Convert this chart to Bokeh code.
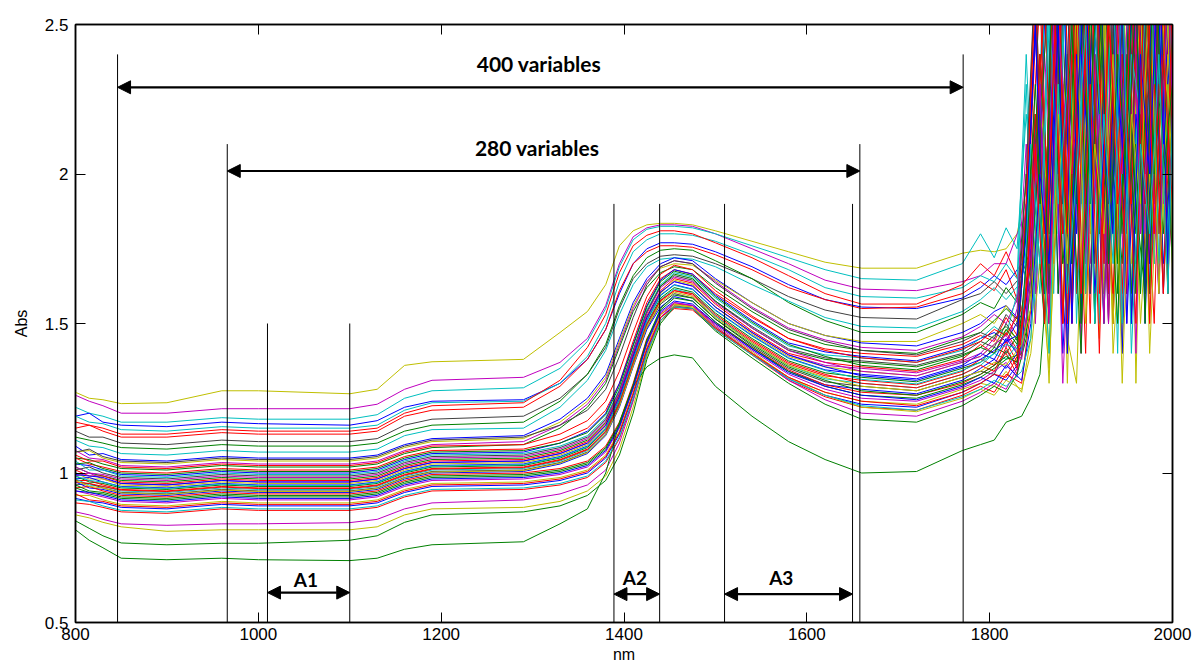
from bokeh.plotting import figure
from bokeh.models import Range1d, LinearAxis, FixedTicker, Arrow, NormalHead, ColumnDataSource
from bokeh.embed import file_html
from bokeh.resources import INLINE
from bokeh.core.properties import value

# wavelength grids (nm); the noisy tail is sampled at two interleaved sets of points
wavelength = [800, 815, 830, 850, 900, 960, 1000, 1100, 1130, 1160, 1190, 1290, 1330, 1360, 1380,
              1395, 1410, 1425, 1440, 1455, 1475, 1500, 1540, 1580, 1620, 1660, 1720, 1770, 1790,
              1805, 1818,
              1830, 1840, 1850, 1860, 1870, 1880, 1890, 1900, 1910, 1920, 1930, 1940, 1950, 1960,
              1970, 1980, 1990, 2000]
wavelength_b = [800, 815, 830, 850, 900, 960, 1000, 1100, 1130, 1160, 1190, 1290, 1330, 1360, 1380,
                1395, 1410, 1425, 1440, 1455, 1475, 1500, 1540, 1580, 1620, 1660, 1720, 1770, 1790,
                1805, 1818,
                1835, 1845, 1855, 1865, 1875, 1885, 1895, 1905, 1915, 1925, 1935, 1945, 1955, 1965,
                1975, 1985, 1995, 2000]

# absorbance spectra
c01 = [1.27, 1.25, 1.245, 1.232, 1.235, 1.275, 1.275, 1.265, 1.28, 1.36, 1.372, 1.38, 1.47, 1.54, 1.63, 1.76, 1.81, 1.83, 1.835, 1.835, 1.83, 1.81, 1.775, 1.74, 1.705, 1.685, 1.685, 1.735, 1.745, 1.74, 1.75,
       1.80, 1.95, 2.6, 1.7, 2.9, 2.1, 3.1, 1.6, 2.7, 1.45, 2.8, 2.2, 3.0, 1.3, 2.6, 1.9, 2.9, 2.0]
c02 = [1.26, 1.24, 1.225, 1.20, 1.20, 1.215, 1.215, 1.215, 1.23, 1.28, 1.31, 1.32, 1.37, 1.45, 1.56, 1.70, 1.79, 1.82, 1.83, 1.83, 1.825, 1.80, 1.75, 1.70, 1.645, 1.615, 1.61, 1.64, 1.66, 1.70, 1.70,
       1.84, 1.72, 2.4, 1.9, 3.0, 1.6, 2.5, 2.0, 3.2, 1.7, 2.3, 1.5, 2.9, 2.1, 2.7, 1.6, 3.0, 2.2]
c03 = [1.22, 1.20, 1.19, 1.17, 1.17, 1.185, 1.18, 1.18, 1.195, 1.25, 1.275, 1.285, 1.35, 1.44, 1.55, 1.69, 1.78, 1.815, 1.825, 1.825, 1.82, 1.80, 1.76, 1.72, 1.68, 1.65, 1.645, 1.70, 1.80, 1.72, 1.82,
       1.75, 2.2, 1.8, 2.8, 1.6, 2.5, 3.1, 1.9, 2.6, 1.5, 3.0, 2.0, 2.4, 1.7, 3.2, 2.1, 2.7, 1.8]
c04 = [1.19, 1.20, 1.17, 1.16, 1.155, 1.17, 1.165, 1.16, 1.175, 1.22, 1.24, 1.245, 1.30, 1.38, 1.48, 1.60, 1.70, 1.75, 1.77, 1.77, 1.765, 1.74, 1.69, 1.63, 1.58, 1.555, 1.55, 1.585, 1.62, 1.66, 1.63,
       1.70, 1.6, 2.3, 1.8, 2.9, 1.4, 2.6, 2.2, 3.0, 1.6, 2.1, 2.8, 1.5, 2.5, 1.9, 3.1, 1.7, 2.4]
c05 = [1.19, 1.17, 1.165, 1.145, 1.14, 1.155, 1.15, 1.15, 1.16, 1.21, 1.235, 1.24, 1.30, 1.39, 1.50, 1.64, 1.74, 1.78, 1.80, 1.80, 1.795, 1.775, 1.73, 1.68, 1.62, 1.59, 1.585, 1.62, 1.66, 1.64, 1.70,
       1.65, 2.4, 1.7, 2.2, 3.0, 1.8, 2.7, 1.5, 2.4, 3.1, 1.9, 2.6, 1.6, 2.9, 2.2, 1.7, 2.8, 2.3]
c06 = [1.17, 1.16, 1.15, 1.13, 1.13, 1.145, 1.14, 1.14, 1.15, 1.20, 1.225, 1.235, 1.31, 1.42, 1.53, 1.67, 1.76, 1.795, 1.81, 1.81, 1.80, 1.77, 1.72, 1.66, 1.60, 1.565, 1.565, 1.63, 1.70, 1.66, 1.74,
       1.62, 2.1, 2.8, 1.6, 2.3, 1.9, 3.0, 1.7, 2.5, 2.0, 3.2, 1.5, 2.6, 1.8, 2.4, 2.9, 1.6, 2.2]
c07 = [1.15, 1.16, 1.14, 1.12, 1.12, 1.135, 1.13, 1.13, 1.14, 1.19, 1.21, 1.22, 1.29, 1.38, 1.48, 1.61, 1.70, 1.74, 1.76, 1.76, 1.755, 1.73, 1.68, 1.62, 1.58, 1.55, 1.555, 1.60, 1.64, 1.61, 1.68,
       1.58, 1.9, 2.5, 1.7, 3.0, 2.2, 1.6, 2.7, 1.9, 3.1, 1.5, 2.4, 2.0, 2.8, 1.7, 2.5, 3.0, 1.9]
c08 = [1.14, 1.12, 1.12, 1.10, 1.095, 1.11, 1.105, 1.105, 1.115, 1.16, 1.18, 1.19, 1.25, 1.33, 1.42, 1.55, 1.65, 1.70, 1.725, 1.73, 1.725, 1.70, 1.65, 1.59, 1.545, 1.52, 1.515, 1.58, 1.60, 1.64, 1.60,
       1.66, 1.75, 2.2, 1.6, 2.7, 1.9, 2.4, 3.0, 1.7, 2.3, 1.5, 2.9, 2.1, 2.6, 1.8, 3.2, 2.0, 2.5]
c09 = [1.12, 1.11, 1.10, 1.085, 1.08, 1.095, 1.09, 1.09, 1.10, 1.14, 1.16, 1.17, 1.24, 1.33, 1.43, 1.56, 1.66, 1.72, 1.745, 1.75, 1.745, 1.71, 1.65, 1.57, 1.51, 1.47, 1.47, 1.53, 1.57, 1.55, 1.62,
       1.57, 2.0, 1.6, 2.6, 1.8, 2.2, 2.9, 1.5, 2.5, 2.0, 2.8, 1.7, 2.3, 3.0, 1.6, 2.4, 1.9, 2.7]
c10 = [1.11, 1.09, 1.085, 1.065, 1.06, 1.075, 1.07, 1.07, 1.08, 1.125, 1.145, 1.15, 1.22, 1.31, 1.41, 1.53, 1.63, 1.69, 1.715, 1.72, 1.715, 1.69, 1.63, 1.575, 1.52, 1.49, 1.485, 1.54, 1.58, 1.62, 1.58,
       1.64, 1.85, 2.4, 1.7, 2.1, 2.8, 1.6, 2.3, 1.9, 3.0, 1.8, 2.5, 1.55, 2.7, 2.0, 2.9, 1.7, 2.2]
c11 = [1.09, 1.06, 1.065, 1.045, 1.04, 1.055, 1.05, 1.05, 1.06, 1.095, 1.115, 1.125, 1.18, 1.25, 1.33, 1.45, 1.57, 1.65, 1.70, 1.72, 1.71, 1.65, 1.57, 1.50, 1.46, 1.435, 1.425, 1.47, 1.50, 1.54, 1.56,
       1.52, 1.8, 2.5, 1.6, 3.0, 2.0, 2.6, 1.5, 2.8, 2.2, 1.7, 3.1, 1.9, 2.4, 1.6, 2.7, 2.1, 2.9]
c12 = [1.07, 1.075, 1.05, 1.035, 1.03, 1.045, 1.04, 1.04, 1.05, 1.085, 1.105, 1.115, 1.17, 1.24, 1.32, 1.44, 1.56, 1.64, 1.685, 1.70, 1.695, 1.645, 1.57, 1.50, 1.46, 1.44, 1.44, 1.50, 1.53, 1.50, 1.56,
       1.48, 1.7, 2.2, 1.5, 2.7, 1.9, 3.0, 1.6, 2.4, 2.0, 2.9, 1.4, 2.5, 1.8, 3.1, 2.2, 1.6, 2.6]
c13 = [1.075, 1.05, 1.045, 1.025, 1.02, 1.035, 1.03, 1.03, 1.04, 1.075, 1.095, 1.105, 1.16, 1.23, 1.31, 1.43, 1.55, 1.64, 1.69, 1.71, 1.70, 1.64, 1.555, 1.485, 1.445, 1.42, 1.41, 1.455, 1.49, 1.53, 1.50,
       1.58, 2.1, 1.6, 2.4, 1.9, 2.9, 1.5, 2.6, 2.2, 3.0, 1.7, 2.3, 2.8, 1.6, 2.5, 1.9, 2.8, 2.1]
c14 = [1.05, 1.045, 1.03, 1.015, 1.01, 1.025, 1.02, 1.02, 1.03, 1.065, 1.085, 1.095, 1.15, 1.22, 1.30, 1.42, 1.54, 1.62, 1.67, 1.69, 1.68, 1.62, 1.54, 1.47, 1.43, 1.41, 1.40, 1.45, 1.47, 1.51, 1.55,
       1.50, 1.65, 2.3, 1.8, 2.6, 1.5, 2.9, 2.0, 2.4, 1.7, 3.1, 2.2, 1.6, 2.7, 2.0, 2.5, 1.8, 3.0]
c15 = [1.05, 1.03, 1.02, 1.005, 1.00, 1.015, 1.01, 1.01, 1.02, 1.055, 1.075, 1.08, 1.11, 1.15, 1.21, 1.30, 1.44, 1.57, 1.65, 1.68, 1.665, 1.60, 1.52, 1.45, 1.415, 1.40, 1.39, 1.43, 1.46, 1.44, 1.52,
       1.46, 1.9, 2.7, 1.6, 2.2, 3.0, 1.7, 2.5, 1.5, 2.8, 2.0, 2.4, 1.6, 3.2, 1.9, 2.6, 2.2, 1.7]
c16 = [1.03, 1.025, 1.01, 0.995, 0.99, 1.005, 1.00, 1.00, 1.01, 1.045, 1.065, 1.07, 1.10, 1.14, 1.20, 1.30, 1.43, 1.56, 1.645, 1.68, 1.665, 1.595, 1.51, 1.435, 1.405, 1.39, 1.375, 1.42, 1.45, 1.47, 1.44,
       1.53, 1.7, 2.1, 2.9, 1.6, 2.4, 1.8, 3.0, 2.2, 1.5, 2.7, 1.9, 2.5, 3.1, 1.6, 2.3, 2.8, 1.8]
c17 = [1.04, 1.01, 1.01, 0.99, 0.985, 1.00, 0.995, 0.995, 1.005, 1.04, 1.06, 1.065, 1.09, 1.125, 1.185, 1.28, 1.41, 1.545, 1.63, 1.67, 1.655, 1.585, 1.50, 1.425, 1.395, 1.385, 1.37, 1.41, 1.45, 1.49, 1.46,
       1.60, 2.3, 1.5, 2.6, 2.0, 2.8, 1.7, 2.2, 3.0, 1.8, 2.5, 1.4, 2.9, 2.1, 2.6, 1.7, 3.1, 2.0]
c18 = [1.01, 1.02, 1.00, 0.985, 0.98, 0.995, 0.99, 0.99, 1.00, 1.035, 1.055, 1.06, 1.085, 1.12, 1.18, 1.275, 1.41, 1.54, 1.625, 1.66, 1.645, 1.575, 1.49, 1.415, 1.385, 1.375, 1.36, 1.40, 1.44, 1.42, 1.50,
       1.42, 1.8, 2.4, 1.6, 2.9, 2.1, 2.5, 1.7, 3.0, 1.9, 2.3, 2.7, 1.5, 2.4, 2.0, 2.9, 1.6, 2.3]
c19 = [1.02, 1.00, 0.99, 0.975, 0.97, 0.985, 0.98, 0.98, 0.99, 1.025, 1.045, 1.05, 1.075, 1.11, 1.17, 1.265, 1.40, 1.535, 1.625, 1.665, 1.65, 1.575, 1.485, 1.41, 1.38, 1.37, 1.355, 1.395, 1.42, 1.46, 1.49,
       1.45, 1.6, 2.2, 1.8, 2.7, 1.5, 2.4, 2.9, 1.9, 2.6, 1.7, 3.0, 2.2, 1.6, 2.8, 2.0, 2.5, 1.8]
c20 = [1.01, 0.99, 0.99, 0.97, 0.965, 0.98, 0.975, 0.975, 0.985, 1.02, 1.04, 1.045, 1.07, 1.105, 1.165, 1.26, 1.395, 1.525, 1.61, 1.65, 1.635, 1.565, 1.475, 1.40, 1.37, 1.355, 1.34, 1.38, 1.43, 1.40, 1.47,
       1.39, 2.0, 2.6, 1.7, 2.3, 3.0, 1.6, 2.5, 2.1, 2.8, 1.5, 2.4, 1.9, 3.1, 1.7, 2.6, 2.2, 2.9]
c21 = [0.99, 1.00, 0.98, 0.965, 0.96, 0.975, 0.97, 0.97, 0.98, 1.015, 1.035, 1.04, 1.065, 1.10, 1.16, 1.255, 1.39, 1.52, 1.605, 1.64, 1.625, 1.555, 1.47, 1.395, 1.36, 1.35, 1.335, 1.375, 1.40, 1.45, 1.42,
       1.55, 1.9, 1.5, 2.4, 2.9, 1.7, 2.2, 1.6, 2.7, 2.0, 3.0, 1.8, 2.5, 1.4, 2.6, 2.1, 2.8, 1.9]
c22 = [1.00, 0.98, 0.98, 0.96, 0.955, 0.97, 0.965, 0.965, 0.975, 1.01, 1.03, 1.035, 1.06, 1.095, 1.155, 1.25, 1.385, 1.515, 1.60, 1.645, 1.63, 1.555, 1.465, 1.39, 1.355, 1.34, 1.325, 1.37, 1.39, 1.43, 1.48,
       1.44, 1.6, 2.3, 1.8, 2.6, 1.3, 2.5, 2.0, 2.9, 1.6, 2.4, 2.8, 1.7, 2.2, 1.5, 3.0, 2.0, 2.6]
c23 = [0.98, 0.985, 0.97, 0.955, 0.95, 0.965, 0.96, 0.96, 0.97, 1.005, 1.025, 1.03, 1.055, 1.09, 1.15, 1.245, 1.38, 1.51, 1.595, 1.63, 1.615, 1.545, 1.46, 1.385, 1.345, 1.33, 1.315, 1.36, 1.40, 1.38, 1.45,
       1.40, 1.85, 2.5, 1.5, 2.8, 2.1, 1.7, 2.6, 1.9, 3.1, 1.6, 2.3, 2.0, 2.7, 1.5, 2.4, 2.9, 1.7]
c24 = [0.99, 0.97, 0.965, 0.95, 0.945, 0.96, 0.955, 0.955, 0.965, 1.00, 1.02, 1.025, 1.05, 1.085, 1.145, 1.24, 1.375, 1.50, 1.585, 1.62, 1.605, 1.535, 1.45, 1.375, 1.335, 1.32, 1.305, 1.35, 1.37, 1.42, 1.40,
       1.48, 1.7, 2.1, 2.7, 1.6, 2.4, 1.9, 3.0, 1.5, 2.6, 2.2, 1.8, 2.9, 2.0, 2.5, 1.6, 2.7, 2.3]
c25 = [0.975, 0.975, 0.96, 0.945, 0.94, 0.955, 0.95, 0.95, 0.96, 0.995, 1.015, 1.02, 1.045, 1.08, 1.14, 1.235, 1.37, 1.495, 1.575, 1.61, 1.595, 1.525, 1.44, 1.365, 1.325, 1.31, 1.295, 1.34, 1.38, 1.36, 1.44,
       1.37, 1.9, 2.6, 1.7, 2.2, 1.5, 2.8, 2.0, 2.4, 3.0, 1.6, 2.5, 1.9, 2.7, 2.1, 1.5, 2.6, 2.0]
c26 = [0.98, 0.96, 0.955, 0.94, 0.935, 0.95, 0.945, 0.945, 0.955, 0.99, 1.01, 1.015, 1.04, 1.075, 1.135, 1.23, 1.365, 1.495, 1.58, 1.615, 1.60, 1.525, 1.435, 1.36, 1.315, 1.30, 1.285, 1.33, 1.36, 1.40, 1.38,
       1.45, 2.0, 1.6, 2.5, 1.8, 2.9, 1.5, 2.3, 2.7, 1.7, 2.4, 2.0, 3.0, 1.6, 2.2, 2.8, 1.8, 2.5]
c27 = [0.96, 0.965, 0.95, 0.935, 0.93, 0.945, 0.94, 0.94, 0.95, 0.985, 1.005, 1.01, 1.035, 1.07, 1.13, 1.225, 1.36, 1.485, 1.565, 1.60, 1.585, 1.515, 1.425, 1.35, 1.305, 1.29, 1.275, 1.32, 1.34, 1.33, 1.41,
       1.36, 1.5, 2.2, 1.7, 2.6, 2.0, 1.6, 2.8, 1.9, 2.4, 1.5, 2.9, 2.1, 1.7, 2.5, 1.9, 3.0, 2.2]
c28 = [0.97, 0.95, 0.945, 0.93, 0.925, 0.94, 0.935, 0.935, 0.945, 0.98, 1.00, 1.005, 1.03, 1.065, 1.125, 1.22, 1.355, 1.48, 1.555, 1.59, 1.575, 1.505, 1.415, 1.34, 1.295, 1.28, 1.265, 1.31, 1.35, 1.38, 1.35,
       1.42, 1.75, 2.3, 1.5, 2.7, 1.8, 2.4, 1.6, 3.0, 2.0, 2.2, 1.4, 2.6, 2.1, 1.7, 2.8, 2.3, 1.6]
c29 = [0.95, 0.955, 0.94, 0.925, 0.92, 0.935, 0.93, 0.93, 0.94, 0.975, 0.995, 1.00, 1.015, 1.04, 1.09, 1.17, 1.30, 1.45, 1.53, 1.565, 1.56, 1.50, 1.42, 1.345, 1.295, 1.27, 1.26, 1.30, 1.33, 1.36, 1.40,
       1.33, 1.6, 2.0, 2.6, 1.7, 2.3, 1.5, 2.9, 1.8, 2.4, 2.0, 2.7, 1.6, 2.5, 3.0, 1.8, 2.2, 2.6]
c30 = [0.95, 0.935, 0.93, 0.915, 0.91, 0.925, 0.92, 0.92, 0.93, 0.965, 0.985, 0.99, 1.005, 1.03, 1.08, 1.16, 1.29, 1.44, 1.545, 1.585, 1.575, 1.505, 1.42, 1.34, 1.29, 1.26, 1.25, 1.295, 1.32, 1.35, 1.38,
       1.40, 1.55, 2.4, 1.9, 2.8, 1.6, 2.2, 2.6, 1.5, 2.9, 2.0, 1.7, 2.5, 2.2, 1.6, 2.7, 2.0, 2.4]
c31 = [0.94, 0.93, 0.92, 0.905, 0.90, 0.915, 0.91, 0.91, 0.92, 0.955, 0.975, 0.98, 0.995, 1.02, 1.07, 1.15, 1.28, 1.43, 1.535, 1.57, 1.56, 1.495, 1.41, 1.33, 1.28, 1.25, 1.24, 1.285, 1.31, 1.34, 1.37,
       1.32, 1.7, 2.1, 1.5, 2.5, 1.9, 2.8, 1.4, 2.3, 1.8, 2.6, 2.1, 1.5, 2.9, 1.8, 2.3, 1.6, 2.7]
c32 = [0.925, 0.925, 0.91, 0.895, 0.89, 0.905, 0.90, 0.90, 0.91, 0.945, 0.965, 0.97, 0.985, 1.01, 1.06, 1.14, 1.27, 1.42, 1.53, 1.565, 1.555, 1.49, 1.405, 1.32, 1.27, 1.24, 1.23, 1.28, 1.30, 1.29, 1.34,
       1.27, 1.45, 1.9, 1.3, 2.2, 1.6, 2.5, 1.7, 2.0, 2.7, 1.5, 2.3, 1.9, 2.6, 1.4, 2.1, 2.5, 1.8]
c33 = [0.915, 0.905, 0.90, 0.885, 0.88, 0.895, 0.89, 0.89, 0.90, 0.935, 0.955, 0.96, 0.975, 1.00, 1.05, 1.13, 1.26, 1.41, 1.52, 1.56, 1.55, 1.485, 1.40, 1.315, 1.26, 1.23, 1.22, 1.27, 1.30, 1.33, 1.31,
       1.36, 1.5, 2.2, 1.7, 2.4, 1.4, 2.0, 2.6, 1.6, 2.3, 1.8, 2.8, 1.5, 2.2, 1.9, 2.5, 1.7, 2.1]
c34 = [0.90, 0.895, 0.885, 0.87, 0.865, 0.88, 0.875, 0.875, 0.885, 0.92, 0.94, 0.945, 0.96, 0.985, 1.035, 1.115, 1.245, 1.40, 1.51, 1.55, 1.545, 1.48, 1.395, 1.31, 1.255, 1.22, 1.21, 1.26, 1.29, 1.27, 1.33,
       1.30, 1.55, 2.0, 1.5, 2.6, 1.8, 2.2, 1.4, 2.7, 2.0, 1.6, 2.4, 1.9, 2.8, 1.5, 2.3, 2.0, 2.5]
c35 = [0.87, 0.86, 0.845, 0.83, 0.825, 0.83, 0.83, 0.834, 0.845, 0.88, 0.90, 0.91, 0.93, 0.96, 1.01, 1.10, 1.24, 1.40, 1.52, 1.57, 1.56, 1.49, 1.40, 1.31, 1.245, 1.20, 1.19, 1.24, 1.27, 1.30, 1.28,
       1.35, 1.5, 2.1, 1.6, 2.4, 1.3, 2.0, 2.6, 1.7, 2.2, 1.5, 2.7, 1.8, 2.3, 1.6, 2.5, 1.9, 2.2]
c36 = [0.86, 0.85, 0.835, 0.82, 0.805, 0.81, 0.81, 0.81, 0.82, 0.86, 0.88, 0.885, 0.905, 0.94, 0.99, 1.08, 1.22, 1.39, 1.51, 1.56, 1.555, 1.485, 1.40, 1.32, 1.26, 1.22, 1.205, 1.25, 1.28, 1.26, 1.31,
       1.28, 1.40, 1.7, 1.35, 2.0, 1.45, 1.3, 2.2, 1.6, 2.5, 1.4, 1.9, 2.3, 1.5, 2.0, 1.7, 2.4, 1.6]
c37 = [0.84, 0.815, 0.79, 0.766, 0.76, 0.765, 0.765, 0.775, 0.79, 0.835, 0.86, 0.87, 0.89, 0.925, 0.975, 1.06, 1.20, 1.38, 1.50, 1.555, 1.55, 1.475, 1.385, 1.30, 1.23, 1.18, 1.17, 1.225, 1.26, 1.29, 1.27,
       1.33, 1.45, 1.9, 1.5, 2.3, 1.7, 2.0, 1.4, 2.6, 1.8, 2.1, 1.5, 2.4, 1.9, 1.6, 2.2, 1.8, 2.5]
c38 = [0.81, 0.775, 0.75, 0.715, 0.71, 0.715, 0.71, 0.707, 0.715, 0.745, 0.76, 0.77, 0.83, 0.88, 1.00, 1.17, 1.29, 1.355, 1.385, 1.395, 1.385, 1.29, 1.19, 1.105, 1.045, 1.00, 1.005, 1.075, 1.095, 1.11, 1.17,
       1.19, 1.25, 1.33, 1.75, 2.3, 1.6, 2.8, 1.9, 2.4, 1.5, 2.7, 2.0, 2.2, 1.6, 2.9, 1.8, 2.3, 2.0]
c39 = [1.07, 1.08, 1.055, 1.04, 1.035, 1.05, 1.045, 1.045, 1.055, 1.09, 1.11, 1.12, 1.16, 1.21, 1.28, 1.39, 1.52, 1.63, 1.69, 1.71, 1.70, 1.635, 1.55, 1.48, 1.44, 1.41, 1.395, 1.44, 1.47, 1.45, 1.53,
       1.49, 2.0, 2.7, 1.6, 2.3, 1.8, 2.9, 2.1, 1.6, 2.6, 1.9, 3.0, 1.7, 2.4, 2.0, 2.8, 1.6, 2.3]
c40 = [1.06, 1.04, 1.04, 1.02, 1.015, 1.03, 1.025, 1.025, 1.035, 1.07, 1.09, 1.095, 1.13, 1.175, 1.24, 1.34, 1.47, 1.59, 1.665, 1.695, 1.68, 1.61, 1.525, 1.45, 1.41, 1.385, 1.37, 1.415, 1.44, 1.48, 1.46,
       1.55, 1.7, 2.4, 1.9, 2.8, 1.5, 2.5, 2.2, 3.1, 1.7, 2.3, 1.6, 2.7, 2.0, 2.5, 1.8, 2.9, 2.1]
c41 = [1.03, 1.035, 1.015, 1.00, 0.995, 1.01, 1.005, 1.005, 1.015, 1.05, 1.07, 1.075, 1.10, 1.135, 1.195, 1.29, 1.425, 1.555, 1.64, 1.675, 1.66, 1.59, 1.505, 1.43, 1.39, 1.36, 1.345, 1.39, 1.42, 1.40, 1.48,
       1.43, 1.85, 2.2, 1.6, 2.9, 2.0, 1.7, 2.6, 1.9, 2.4, 3.0, 1.6, 2.2, 1.8, 2.7, 2.0, 2.4, 1.7]
c42 = [1.02, 1.00, 0.995, 0.98, 0.975, 0.99, 0.985, 0.985, 0.995, 1.03, 1.05, 1.055, 1.08, 1.115, 1.175, 1.27, 1.405, 1.535, 1.62, 1.655, 1.64, 1.57, 1.485, 1.41, 1.37, 1.34, 1.325, 1.37, 1.39, 1.43, 1.46,
       1.38, 1.65, 2.3, 1.5, 2.5, 2.1, 2.9, 1.7, 2.4, 1.5, 2.8, 2.0, 3.0, 1.8, 2.2, 1.6, 2.7, 2.2]
c43 = [0.995, 0.99, 0.985, 0.965, 0.96, 0.975, 0.97, 0.97, 0.98, 1.015, 1.035, 1.04, 1.065, 1.10, 1.16, 1.255, 1.39, 1.52, 1.605, 1.64, 1.625, 1.555, 1.47, 1.395, 1.355, 1.325, 1.31, 1.355, 1.38, 1.41, 1.44,
       1.46, 1.8, 2.5, 1.6, 2.2, 2.8, 1.5, 2.4, 2.0, 2.9, 1.7, 2.3, 1.9, 2.6, 1.6, 3.0, 2.1, 2.5]
c44 = [0.99, 0.975, 0.97, 0.953, 0.948, 0.963, 0.958, 0.958, 0.968, 1.003, 1.023, 1.028, 1.053, 1.088, 1.148, 1.243, 1.378, 1.508, 1.593, 1.628, 1.613, 1.543, 1.458, 1.383, 1.343, 1.313, 1.298, 1.343, 1.37, 1.40, 1.43,
       1.41, 2.1, 1.7, 2.6, 1.9, 2.3, 3.0, 1.6, 2.5, 2.0, 2.7, 1.5, 2.4, 2.2, 2.9, 1.7, 2.2, 2.6]
c45 = [0.97, 0.965, 0.955, 0.943, 0.938, 0.953, 0.948, 0.948, 0.958, 0.993, 1.013, 1.018, 1.043, 1.078, 1.138, 1.233, 1.368, 1.498, 1.578, 1.61, 1.60, 1.53, 1.445, 1.37, 1.33, 1.30, 1.285, 1.33, 1.36, 1.34, 1.42,
       1.35, 1.6, 2.2, 1.8, 2.7, 1.5, 2.4, 2.0, 2.9, 1.6, 2.5, 2.1, 1.7, 2.8, 1.9, 2.3, 1.6, 2.6]
c46 = [0.975, 0.955, 0.95, 0.933, 0.928, 0.943, 0.938, 0.938, 0.948, 0.983, 1.003, 1.008, 1.033, 1.068, 1.128, 1.223, 1.358, 1.488, 1.57, 1.605, 1.59, 1.52, 1.435, 1.36, 1.32, 1.29, 1.275, 1.32, 1.34, 1.37, 1.36,
       1.43, 1.55, 2.0, 1.4, 2.3, 1.7, 2.6, 1.5, 2.1, 1.8, 2.4, 1.3, 2.2, 1.9, 2.7, 1.6, 2.3, 2.0]
c47 = [0.96, 0.94, 0.935, 0.92, 0.915, 0.93, 0.925, 0.925, 0.935, 0.97, 0.99, 0.995, 1.01, 1.035, 1.085, 1.165, 1.295, 1.445, 1.55, 1.595, 1.585, 1.515, 1.43, 1.355, 1.31, 1.275, 1.26, 1.305, 1.33, 1.36, 1.39,
       1.37, 1.7, 2.3, 1.6, 2.9, 1.9, 2.5, 1.5, 2.2, 2.8, 1.7, 2.4, 2.0, 2.6, 1.5, 2.9, 2.0, 2.3]
c48 = [0.94, 0.935, 0.925, 0.91, 0.905, 0.92, 0.915, 0.915, 0.925, 0.96, 0.98, 0.985, 1.00, 1.025, 1.075, 1.155, 1.285, 1.435, 1.54, 1.575, 1.565, 1.50, 1.415, 1.335, 1.29, 1.26, 1.245, 1.29, 1.32, 1.30, 1.36,
       1.31, 1.5, 2.0, 1.7, 2.5, 1.4, 2.2, 2.7, 1.6, 2.1, 1.8, 2.6, 1.5, 2.4, 2.0, 2.8, 1.7, 2.2]
c49 = [0.93, 0.91, 0.905, 0.89, 0.885, 0.90, 0.895, 0.895, 0.905, 0.94, 0.96, 0.965, 0.98, 1.005, 1.055, 1.135, 1.265, 1.415, 1.52, 1.555, 1.55, 1.485, 1.40, 1.32, 1.27, 1.24, 1.225, 1.27, 1.30, 1.33, 1.32,
       1.39, 1.6, 2.1, 1.5, 2.4, 1.8, 2.7, 1.6, 2.3, 1.4, 2.6, 1.9, 2.2, 1.5, 2.8, 1.8, 2.4, 1.9]
c50 = [0.91, 0.905, 0.89, 0.875, 0.87, 0.885, 0.88, 0.88, 0.89, 0.925, 0.945, 0.95, 0.965, 0.99, 1.04, 1.12, 1.25, 1.40, 1.51, 1.555, 1.55, 1.48, 1.395, 1.315, 1.26, 1.225, 1.21, 1.255, 1.28, 1.31, 1.29,
       1.34, 1.45, 1.9, 1.4, 2.3, 1.6, 2.0, 2.5, 1.5, 2.2, 1.7, 2.7, 1.4, 2.1, 1.8, 2.4, 1.6, 2.2]

spectra = [c01, c02, c03, c04, c05, c06, c07, c08, c09, c10, c11, c12, c13, c14, c15, c16, c17, c18, c19,
           c20, c21, c22, c23, c24, c25, c26, c27, c28, c29, c30, c31, c32, c33, c34, c35, c36, c37, c38,
           c39, c40, c41, c42, c43, c44, c45, c46, c47, c48, c49, c50]

Y, M, C, B, R, K, G = "#BFBF00", "#BF00BF", "#00BFBF", "#0000FF", "#FF0000", "#404040", "#008000"
curve_colors = [Y, M, C, B, C, R, R, K, G, C, B, Y, M, G, R, B, C, K, G, R, M, Y, B, G, R, C, K, B, R, G,
                M, Y, B, R, M, Y, G, G, K, R, G, M, B, C, R, Y, G, B, R, C]

# marker lines (nm) and their top (Abs)
vline_x = [846, 966, 1010, 1100, 1389, 1439, 1510, 1650, 1658, 1771]
vline_top = [2.40, 2.10, 1.50, 1.50, 1.90, 1.90, 1.90, 1.90, 2.10, 2.40]

# double arrows
arrow_x0 = [846, 966, 1010, 1389, 1510]
arrow_x1 = [1771, 1658, 1100, 1439, 1650]
arrow_y = [2.29, 2.01, 0.60, 0.595, 0.595]

big_labels = ["400 variables", "280 variables"]
big_label_x = [1307, 1305]
big_label_y = [2.37, 2.09]
small_labels = ["A1", "A2", "A3"]
small_label_x = [1052, 1412, 1572]
small_label_y = [0.645, 0.65, 0.65]

x_ticks = [800, 1000, 1200, 1400, 1600, 1800, 2000]
y_ticks = [0.5, 1, 1.5, 2, 2.5]
y_tick_labels = ["0.5", "1", "1.5", "2", "2.5"]

for s in spectra:
    assert len(s) == len(wavelength), len(s)

p = figure(width=1196, height=671, x_range=Range1d(800, 2000), y_range=Range1d(0.5, 2.5),
           output_backend="svg", toolbar_location=None,
           min_border_left=75, min_border_right=24, min_border_top=24, min_border_bottom=49)
p.xgrid.visible = False
p.ygrid.visible = False
p.outline_line_color = "black"
p.outline_line_width = 1.5
p.background_fill_color = "white"
p.border_fill_color = "white"

FONT = "Liberation Sans"

xs = [wavelength if i % 2 == 0 else wavelength_b for i in range(len(spectra))]
p.multi_line(xs=xs, ys=spectra, line_color=curve_colors, line_width=1)

p.segment(x0=vline_x, y0=[0.5] * len(vline_x), x1=vline_x, y1=vline_top, line_color="black", line_width=1)

arrow_src = ColumnDataSource(dict(x0=arrow_x0, x1=arrow_x1, y=arrow_y))
p.add_layout(Arrow(x_start="x0", y_start="y", x_end="x1", y_end="y", source=arrow_src,
                   line_color="black", line_width=2.2,
                   start=NormalHead(size=13, fill_color="black", line_color="black", line_width=1),
                   end=NormalHead(size=13, fill_color="black", line_color="black", line_width=1)))

p.text(x=big_label_x, y=big_label_y, text=big_labels, text_font=value("Lato"), text_font_style="bold",
       text_font_size="21px", text_align="center", text_baseline="middle", text_color="black")
p.text(x=small_label_x, y=small_label_y, text=small_labels, text_font=value("Lato"), text_font_style="bold",
       text_font_size="19px", text_align="center", text_baseline="middle", text_color="black")

# axes
xa = p.xaxis[0]
xa.ticker = FixedTicker(ticks=x_ticks)
xa.axis_label = "nm"
ya = p.yaxis[0]
ya.ticker = FixedTicker(ticks=y_ticks)
ya.major_label_overrides = {t: l for t, l in zip(y_ticks, y_tick_labels)}
ya.axis_label = "Abs"

for ax in (xa, ya):
    ax.major_tick_in = 10
    ax.major_tick_out = 0
    ax.minor_tick_line_color = None
    ax.axis_line_width = 1.5
    ax.major_tick_line_width = 1
    ax.major_label_text_font = FONT
    ax.major_label_text_font_size = "17px"
    ax.major_label_text_color = "black"
    ax.axis_label_text_font = FONT
    ax.axis_label_text_font_size = "16px"
    ax.axis_label_text_font_style = "normal"
    ax.axis_label_text_color = "black"
xa.major_label_standoff = 5
xa.axis_label_standoff = 3
ya.major_label_standoff = 7
ya.axis_label_standoff = 12

top = LinearAxis(ticker=FixedTicker(ticks=x_ticks), major_label_overrides={t: "" for t in x_ticks})
right = LinearAxis(ticker=FixedTicker(ticks=y_ticks), major_label_overrides={t: "" for t in y_ticks})
for ax in (top, right):
    ax.major_tick_in = 10
    ax.major_tick_out = 0
    ax.minor_tick_line_color = None
    ax.axis_line_width = 1.5
    ax.major_label_standoff = 0
    ax.major_label_text_font_size = "1px"
p.add_layout(top, "above")
p.add_layout(right, "right")

open("out.html", "w").write(file_html(p, INLINE))
